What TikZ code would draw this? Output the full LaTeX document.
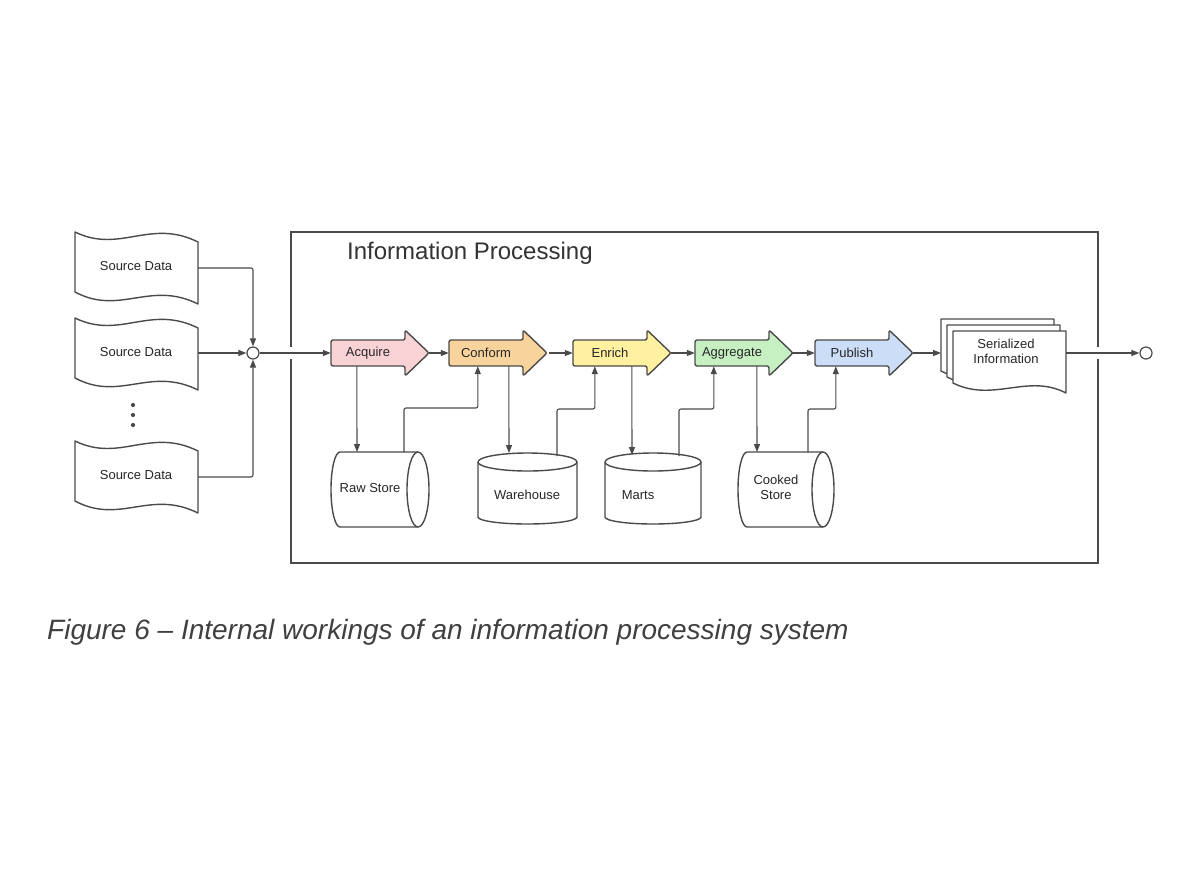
\documentclass[tikz,border=0pt]{standalone}
\usepackage{fontspec}
\setmainfont{Liberation Sans}
\usetikzlibrary{arrows.meta}
\definecolor{ln}{HTML}{4A4A4A}
\definecolor{cA}{HTML}{F9D2D5}
\definecolor{cC}{HTML}{F8D49C}
\definecolor{cE}{HTML}{FFF1A0}
\definecolor{cG}{HTML}{C6EFC2}
\definecolor{cP}{HTML}{CCDDF8}
\tikzset{
  conn/.style={draw=ln,line width=1.1pt,-{Triangle[length=8pt,width=6pt]},rounded corners=2pt},
  shp/.style={draw=ln,line width=1.4pt,line join=round},
  lbl/.style={font=\fontsize{13pt}{15pt}\selectfont,text=black!85,align=center,inner sep=0pt},
}
\newcommand{\stepshape}[2]{% x, color
  \path[shp,fill=#2,rounded corners=2pt] (#1,340) -- (#1+74,340) -- (#1+74,330) -- (#1+98,353) -- (#1+74,376) -- (#1+74,366) -- (#1,366) -- cycle;
}
\newcommand{\srcdoc}[2]{% x top, y top
  \path[shp,fill=white] (#1,#2) .. controls (#1+45,#2+22) and (#1+75,#2-14) .. (#1+123,#2+10)
   -- (#1+123,#2+72) .. controls (#1+75,#2+48) and (#1+45,#2+84) .. (#1,#2+60) -- cycle;
}
\newcommand{\sdoc}[2]{%
  \path[shp,fill=white] (#1,#2) -- (#1+113,#2) -- (#1+113,#2+62) .. controls (#1+75,#2+42) and (#1+40,#2+72) .. (#1,#2+52) -- cycle;
}
\newcommand{\hcyl}[2]{% left x, right x (top 452, bottom 527)
  \path[shp,fill=white] (#1,452) -- (#2,452) arc[start angle=270,end angle=450,x radius=11,y radius=37.5] -- (#1,527) arc[start angle=90,end angle=270,x radius=9,y radius=37.5] -- cycle;
  \draw[shp] (#2,452) arc[start angle=270,end angle=90,x radius=11,y radius=37.5];
}
\newcommand{\vcyl}[3]{% left x, right x, half width
  \path[shp,fill=white] (#1,462) -- (#1,517) arc[start angle=180,end angle=0,x radius=#3,y radius=7] -- (#2,462) arc[start angle=360,end angle=180,x radius=#3,y radius=9];
  \draw[shp] (#1,462) arc[start angle=180,end angle=0,x radius=#3,y radius=9];
}
\begin{document}
\begin{tikzpicture}[x=1pt,y=-1pt]
\useasboundingbox[fill=white] (0,0) rectangle (1199,876);
% frame
\draw[draw=ln,line width=2.4pt] (291,232) rectangle (1098,563);
\node[anchor=west,inner sep=0pt,font=\fontsize{24pt}{27pt}\selectfont,text=black!80] (title) at (347,253) {Information Processing};
% source docs
\srcdoc{75}{232}
\srcdoc{75}{318}
\srcdoc{75}{441}
\node[lbl] (s1) at (136,266) {Source Data};
\node[lbl] (s2) at (136,352) {Source Data};
\node[lbl] (s3) at (136,475) {Source Data};
\foreach \yy in {405,415,425} \fill[ln] (133,\yy) circle (2.1pt);
\coordinate (s1o) at (198,268);
\coordinate (s2o) at (198,353);
\coordinate (s3o) at (198,477);
\node[circle,draw=ln,line width=1.2pt,minimum size=12pt,inner sep=0pt] (j) at (253,353) {};
% steps
\stepshape{331}{cA}
\stepshape{449}{cC}
\stepshape{573}{cE}
\stepshape{695}{cG}
\stepshape{815}{cP}
\node[lbl,minimum width=74pt,minimum height=26pt] (acq) at (368,353) {Acquire};
\node[lbl,minimum width=74pt,minimum height=26pt] (con) at (486,353) {Conform};
\node[lbl,minimum width=74pt,minimum height=26pt] (enr) at (610,353) {Enrich};
\node[lbl,minimum width=74pt,minimum height=26pt] (agg) at (732,353) {Aggregate};
\node[lbl,minimum width=74pt,minimum height=26pt] (pub) at (852,353) {Publish};
\coordinate (acqT) at (429,353);
\coordinate (conT) at (549,353);
\coordinate (enrT) at (671,353);
\coordinate (aggT) at (792,353);
\coordinate (pubT) at (913,353);
% serialized
\sdoc{941}{319}
\sdoc{947}{325}
\sdoc{953}{331}
\node[lbl] (ser) at (1006,351) {Serialized\\Information};
\coordinate (serL) at (941,353);
\coordinate (serR) at (1066,353);
\node[circle,draw=ln,line width=1.2pt,minimum size=12pt,inner sep=0pt] (out) at (1146,353) {};
% cylinders
\hcyl{340}{418}
\hcyl{747}{823}
\vcyl{478}{577}{49.5}
\vcyl{605}{701}{48}
\node[lbl] (raw) at (370,488) {Raw Store};
\node[lbl] (wh) at (527,495) {Warehouse};
\node[lbl] (mar) at (638,495) {Marts};
\node[lbl] (ck) at (776,487) {Cooked\\Store};
\coordinate (rawT) at (404,452);
\coordinate (whT) at (557,456);
\coordinate (marT) at (679,456);
\coordinate (ckT) at (808,452);
% gaps in frame
\draw[white,line width=4pt] (291,347) -- (291,359);
\draw[white,line width=4pt] (1098,347) -- (1098,359);
% connectors
\draw[conn] (s1o) -| (j.north);
\draw[conn] (s3o) -| (j.south);
\draw[conn] (s2o) -- (j.west);
\draw[conn] (j.east) -- (acq.west);
\draw[conn] (acqT) -- (con.west);
\draw[conn] (conT) -- (enr.west);
\draw[conn] (enrT) -- (agg.west);
\draw[conn] (aggT) -- (pub.west);
\draw[conn] (pubT) -- (serL);
\draw[conn] (serR) -- (out.west);
\draw[conn] (acq.south west) ++(26,0) -- (357,452);
\draw[conn] (con.south west) ++(60,0) -- (509,453);
\draw[conn] (enr.south west) ++(59,0) -- (632,455);
\draw[conn] (agg.south west) ++(62,0) -- (757,452);
\draw[conn] (rawT) |- (441,408) -| ([xshift=29pt]con.south west);
\draw[conn] (whT) |- (580,409) -| ([xshift=22pt]enr.south west);
\draw[conn] (marT) |- (700,409) -| ([xshift=19pt]agg.south west);
\draw[conn] (ckT) |- (822,409) -| ([xshift=21pt]pub.south west);
% caption
\node[anchor=west,inner sep=0pt,font=\itshape\fontsize{28pt}{31pt}\selectfont,text=black!75] (cap) at (47,632) {Figure 6 – Internal workings of an information processing system};
\end{tikzpicture}
\end{document}
